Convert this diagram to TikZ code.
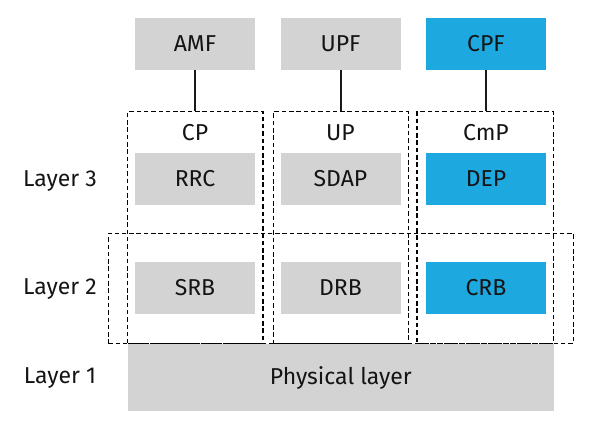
\documentclass[tikz,border=0pt]{standalone}
\usepackage{fontspec}
\setmainfont{Fira Sans}
\definecolor{boxgray}{RGB}{211,211,211}
\definecolor{boxblue}{RGB}{30,168,224}
\definecolor{txt}{RGB}{20,20,20}
\begin{document}
\begin{tikzpicture}[x=1pt,y=-1pt,
  font=\fontsize{23}{27}\selectfont, text=txt,
  cell/.style={fill=boxgray, draw=none, minimum width=120pt, minimum height=52pt, inner sep=0pt},
  bluecell/.style={cell, fill=boxblue},
  dbox/.style={draw=black, line width=1.5pt, dash pattern=on 4.5pt off 2.8pt, inner sep=0pt},
  link/.style={draw=black!90, line width=2pt},
  lbl/.style={inner sep=0pt}]
\useasboundingbox (0,0) rectangle (600,428);
% dashed groupings
\node[dbox, minimum width=465pt, minimum height=110pt] (l2) at (340.8,288.3) {};
\node[dbox, minimum width=135.5pt, minimum height=231.6pt] (cp) at (195.4,227.5) {};
\node[dbox, minimum width=135.2pt, minimum height=231.6pt] (up) at (340.9,227.5) {};
\node[dbox, minimum width=136.3pt, minimum height=231.6pt] (cmp) at (485.2,227.5) {};
% top functions
\node[cell] (amf) at (195,44) {AMF};
\node[cell] (upf) at (340.5,44) {UPF};
\node[bluecell] (cpf) at (486,44) {CPF};
% plane labels
\node[lbl] (cpl) at (195,133) {CP};
\node[lbl] (upl) at (340.5,133) {UP};
\node[lbl] (cmpl) at (486,133) {CmP};
% layer 3
\node[cell] (rrc) at (195,179) {RRC};
\node[cell] (sdap) at (340.5,179) {SDAP};
\node[bluecell] (dep) at (486,179) {DEP};
% layer 2
\node[cell] (srb) at (195,288) {SRB};
\node[cell] (drb) at (340.5,288) {DRB};
\node[bluecell] (crb) at (486,288) {CRB};
% layer 1
\node[cell, minimum width=426.3pt, minimum height=66.4pt] (phy) at (340.8,377.5) {Physical layer};
% layer labels
\node[lbl] (lay3) at (60,181) {Layer 3};
\node[lbl] (lay2) at (60,289) {Layer 2};
\node[lbl] (lay1) at (60,378) {Layer 1};
% connectors
\draw[link] (amf.south) -- (amf.south |- cp.north);
\draw[link] (upf.south) -- (upf.south |- up.north);
\draw[link] (cpf.south) -- (cpf.south |- cmp.north);
\end{tikzpicture}
\end{document}
